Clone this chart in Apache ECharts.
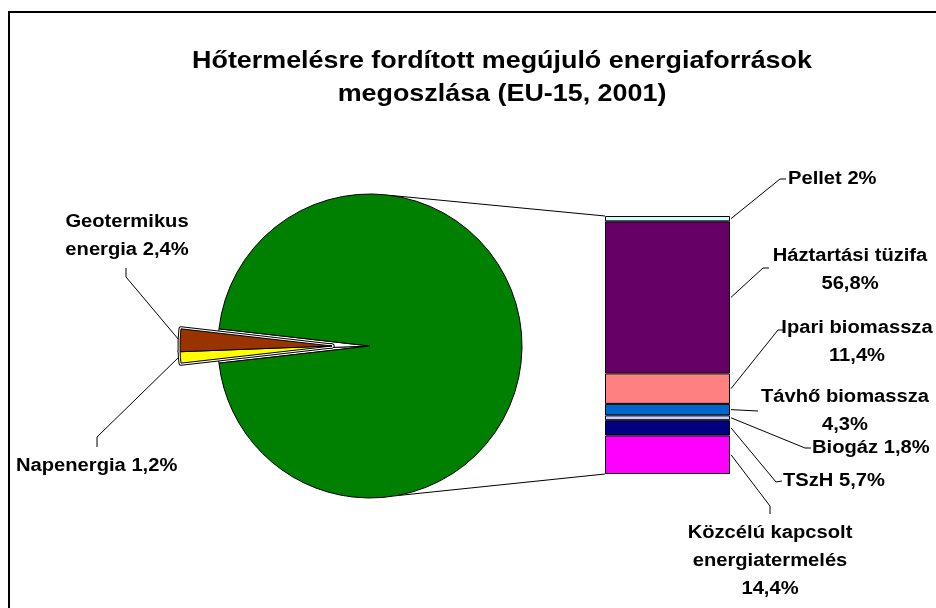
<!DOCTYPE html>
<html>
<head>
<meta charset="utf-8">
<script src="https://cdn.jsdelivr.net/npm/echarts@6/dist/echarts.min.js"></script>
<style>
  html, body { margin: 0; padding: 0; background: #fff; }
  #main { width: 936px; height: 608px; }
</style>
</head>
<body>
<div id="main"></div>
<script>
// pie: share of renewable sources used for heat production
var pieNames = ['Napenergia', 'Geotermikus energia', 'Biomassza'];
var pieValues = [1.2, 2.4, 96.4];
var pieColors = ['#FFFF00', '#993300', '#008000'];

// bar: breakdown of biomassza (percent of total)
var barNames = ['Pellet', 'Háztartási tüzifa', 'Ipari biomassza', 'Távhő biomassza', 'Biogáz', 'TSzH', 'Közcélú kapcsolt energiatermelés'];
var barValues = [2, 56.8, 11.4, 4.3, 1.8, 5.7, 14.4];
var barColors = ['#CCFFFF', '#660066', '#FF8080', '#0066CC', '#CCCCFF', '#000080', '#FF00FF'];

var FONT = 'Liberation Sans, Arial, sans-serif';
var STRETCH = 1.12;
var pieCenter = [370, 346];
var pieRadius = 152;
var explode = 38;
var smallShare = pieValues[0] + pieValues[1];
var startAngle = 180 + smallShare / 100 * 360 / 2;

function pct(v) {
    return String(v).replace('.', ',') + '%';
}

var myChart = echarts.init(document.getElementById('main'), null, {renderer: 'canvas'});

function pieSeries(center, mode) {
    return {
        type: 'pie',
        center: center,
        radius: pieRadius,
        startAngle: startAngle,
        clockwise: true,
        silent: true,
        animation: false,
        avoidLabelOverlap: false,
        label: {show: false},
        labelLine: {show: false},
        data: pieValues.map(function (v, i) {
            var small = i < 2;
            var style;
            if (mode === 'main') {
                style = {color: small ? '#fff' : pieColors[i], borderColor: '#000', borderWidth: 1};
            } else if (mode === 'outerBlack') {
                style = small ? {color: '#000', borderColor: '#000', borderWidth: 5} : {color: 'transparent', borderWidth: 0};
            } else if (mode === 'outerWhite') {
                style = small ? {color: '#fff', borderColor: '#fff', borderWidth: 3} : {color: 'transparent', borderWidth: 0};
            } else {
                style = small ? {color: pieColors[i], borderColor: '#000', borderWidth: 1} : {color: 'transparent', borderWidth: 0};
            }
            return {name: pieNames[i], value: v, itemStyle: style};
        })
    };
}

var explodedCenter = [pieCenter[0] - explode, pieCenter[1]];

var barSeries = barValues.map(function (v, i) {
    return {
        name: barNames[i],
        type: 'bar',
        stack: 'bio',
        barWidth: '100%',
        silent: true,
        animation: false,
        itemStyle: {color: barColors[i], borderColor: '#000', borderWidth: 1},
        data: [v]
    };
});

var barTotal = barValues.reduce(function (a, b) { return a + b; }, 0);

var option = {
    backgroundColor: '#fff',
    animation: false,
    grid: {left: 605, top: 216, width: 125, height: 258},
    xAxis: {type: 'category', data: ['Biomassza'], show: false},
    yAxis: {type: 'value', min: 0, max: barTotal, inverse: true, show: false},
    series: [
        pieSeries(pieCenter, 'main'),
        pieSeries(explodedCenter, 'outerBlack'),
        pieSeries(explodedCenter, 'outerWhite'),
        pieSeries(explodedCenter, 'fill')
    ].concat(barSeries)
};
myChart.setOption(option);

// label layout (pixels): text anchor and leader line bends
var barLabelLayout = [
    {x: 788, y: 179, align: 'left', text: barNames[0] + ' ' + pct(barValues[0]), bend: [[780, 179], [786, 179]]},
    {x: 850, y: 270, align: 'center', text: barNames[1] + '\n' + pct(barValues[1]), bend: [[763, 268], [769, 268]]},
    {x: 857, y: 342, align: 'center', text: barNames[2] + '\n' + pct(barValues[2]), bend: [[778, 330], [784, 330]]},
    {x: 845, y: 411, align: 'center', text: barNames[3] + '\n' + pct(barValues[3]), bend: [[758, 411]]},
    {x: 812, y: 448, align: 'left', text: barNames[4] + ' ' + pct(barValues[4]), bend: [[805, 448], [811, 448]]},
    {x: 783, y: 481, align: 'left', text: barNames[5] + ' ' + pct(barValues[5]), bend: [[776, 482], [782, 481]]},
    {x: 770, y: 561, align: 'center', text: 'Közcélú kapcsolt\nenergiatermelés\n' + pct(barValues[6]), bend: [[770, 506], [770, 514]]}
];

var graphics = [];

function addText(x, y, text, align) {
    graphics.push({
        type: 'text', x: x, y: y, scaleX: STRETCH, silent: true,
        style: {
            text: text, fill: '#000', align: align, verticalAlign: 'middle',
            font: 'bold 18px ' + FONT, lineHeight: 28
        }
    });
}

function addLine(points) {
    graphics.push({
        type: 'polyline', silent: true,
        shape: {points: points},
        style: {stroke: '#000', lineWidth: 1, fill: null}
    });
}

// frame
graphics.push({
    type: 'rect', silent: true,
    shape: {x: 9, y: 12, width: 940, height: 620},
    style: {fill: null, stroke: '#000', lineWidth: 2}
});

// title
graphics.push({
    type: 'text', x: 502, y: 78, scaleX: STRETCH, silent: true,
    style: {
        text: 'Hőtermelésre fordított megújuló energiaforrások\nmegoszlása (EU-15, 2001)',
        fill: '#000', align: 'center', verticalAlign: 'middle',
        font: 'bold 24px ' + FONT, lineHeight: 33
    }
});

// pie → bar connectors
var barTopLeft = myChart.convertToPixel({gridIndex: 0}, [0, 0]);
var barBottom = myChart.convertToPixel({gridIndex: 0}, [0, barTotal]);
var barLeft = 605, barRight = 730;
function onCircle(deg) {
    var r = deg * Math.PI / 180;
    return [pieCenter[0] + pieRadius * Math.cos(r), pieCenter[1] - pieRadius * Math.sin(r)];
}
addLine([onCircle(82), [barLeft, barTopLeft[1]]]);
addLine([onCircle(-80), [barLeft, barBottom[1]]]);

// bar labels
var cum = 0;
barValues.forEach(function (v, i) {
    var mid = myChart.convertToPixel({gridIndex: 0}, [0, cum + v / 2]);
    cum += v;
    var lay = barLabelLayout[i];
    addLine([[barRight + 1, mid[1]]].concat(lay.bend));
    addText(lay.x, lay.y, lay.text, lay.align);
});

// pie labels
addText(372, 273, pieNames[2] + ' ' + pct(pieValues[2]), 'center');
addText(127, 236, 'Geotermikus\nenergia ' + pct(pieValues[1]), 'center');
addLine([[179, 340], [126, 277], [126, 268]]);
addText(16, 466, pieNames[0] + ' ' + pct(pieValues[0]), 'left');
addLine([[179, 357], [97, 437], [97, 447]]);

myChart.setOption({graphic: graphics});
</script>
</body>
</html>
